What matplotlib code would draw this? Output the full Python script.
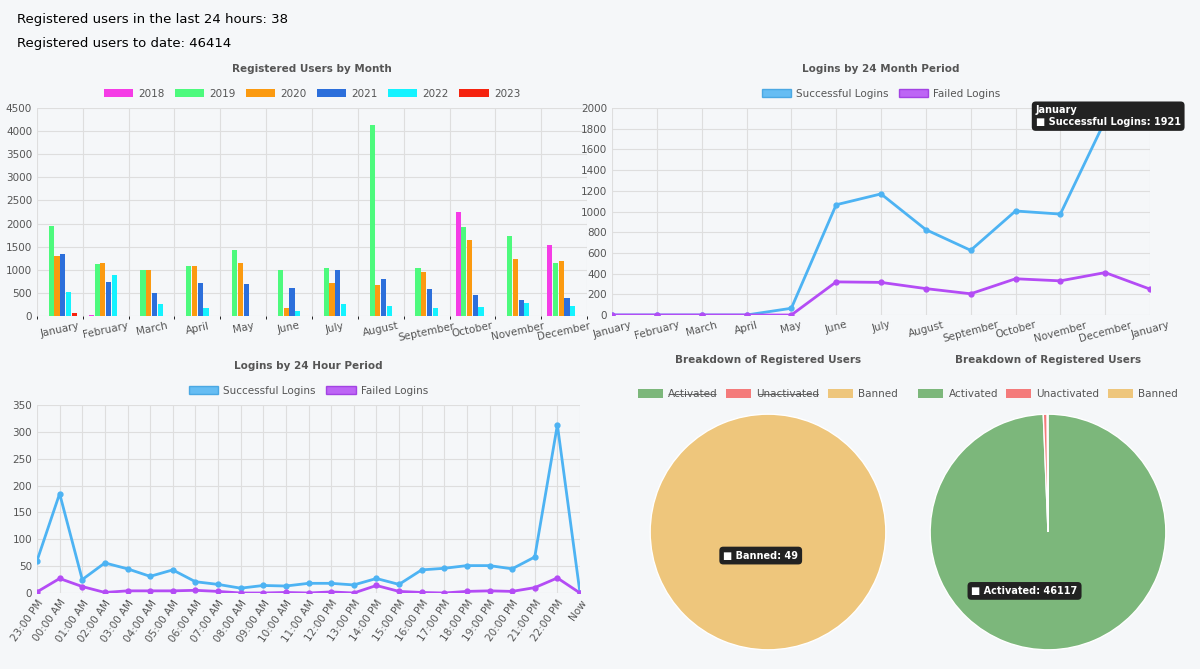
import numpy as np
import matplotlib.pyplot as plt
from matplotlib.patches import Patch

months = ["January", "February", "March", "April", "May", "June", "July",
          "August", "September", "October", "November", "December"]
years = ["2018", "2019", "2020", "2021", "2022", "2023"]
reg_by_year = {
    "2018": [0, 30, 0, 0, 0, 0, 0, 0, 0, 2260, 0, 1540],
    "2019": [1950, 1120, 1000, 1090, 1420, 1000, 1030, 4140, 1030, 1930, 1740, 1150],
    "2020": [1300, 1150, 990, 1090, 1140, 170, 720, 680, 950, 1650, 1240, 1180],
    "2021": [1340, 740, 490, 720, 700, 600, 1000, 800, 590, 450, 340, 390],
    "2022": [510, 880, 270, 180, 0, 110, 260, 210, 170, 190, 290, 220],
    "2023": [70, 0, 0, 0, 0, 0, 0, 0, 0, 0, 0, 0],
}
year_colors = ["#f53ce6", "#4dfa7d", "#fb9a10", "#2c6fdb", "#14f3ff", "#f5230f"]

months24 = months + ["January"]
succ24m = [0, 0, 0, 0, 65, 1065, 1170, 825, 625, 1005, 975, 1880, 1921]
fail24m = [0, 0, 0, 0, 0, 320, 315, 255, 205, 350, 330, 410, 250]

hours = ["23:00 PM", "00:00 AM", "01:00 AM", "02:00 AM", "03:00 AM", "04:00 AM",
         "05:00 AM", "06:00 AM", "07:00 AM", "08:00 AM", "09:00 AM", "10:00 AM",
         "11:00 AM", "12:00 PM", "13:00 PM", "14:00 PM", "15:00 PM", "16:00 PM",
         "17:00 PM", "18:00 PM", "19:00 PM", "20:00 PM", "21:00 PM", "22:00 PM", "Now"]
succ24h = [60, 185, 25, 56, 45, 31, 43, 21, 16, 9, 14, 13, 18, 18, 15, 27, 16,
           43, 46, 51, 51, 45, 67, 313, 0]
fail24h = [2, 27, 12, 1, 4, 4, 4, 5, 3, 0, 0, 1, 0, 2, 0, 14, 3, 1, 0, 3, 4, 3,
           10, 28, 0]

pie_labels = ["Activated", "Unactivated", "Banned"]
pie_values = [46117, 248, 49]
pie_colors = ["#7cb77b", "#f47b7b", "#eec67c"]

BG = "#f5f7f9"
SUCC = "#4db3f3"
FAIL = "#b44cf5"
TXT = "#555555"

plt.rcParams["font.family"] = ["DejaVu Sans"]
fig = plt.figure(figsize=(12, 6.69), dpi=100, facecolor=BG)
W, H = 1200, 669


def axes_px(x0, y0, x1, y1):
    return fig.add_axes([x0 / W, 1 - y1 / H, (x1 - x0) / W, (y1 - y0) / H], facecolor=BG)


def style(ax):
    ax.grid(True, color="#dedede", lw=0.8)
    ax.set_axisbelow(True)
    for s in ax.spines.values():
        s.set_visible(False)
    ax.tick_params(colors=TXT, labelsize=7.5, length=0)


LEG = dict(frameon=False, fontsize=7.5, handlelength=2.8, handleheight=0.9,
           labelcolor=TXT, columnspacing=1.0, handletextpad=0.5)

fig.text(17 / W, 1 - 19 / H, "Registered users in the last 24 hours: 38", fontsize=9.5, va="center")
fig.text(17 / W, 1 - 44 / H, "Registered users to date: 46414", fontsize=9.5, va="center")

# bar chart
ax = axes_px(37, 108, 587, 316)
style(ax)
x = np.arange(len(months))
bw = 0.125
for i, (yr, c) in enumerate(zip(years, year_colors)):
    ax.bar(x + (i - 2.5) * bw, reg_by_year[yr], bw * 0.9, color=c, label=yr)
ax.set_xlim(-0.5, 11.5)
ax.set_ylim(0, 4500)
ax.set_yticks(range(0, 4501, 500))
ax.set_xticks(x)
ax.set_xticklabels(months, rotation=12, ha="center")
ax.set_xticks(np.arange(-0.5, 12, 1), minor=True)
ax.grid(False, axis="x")
ax.grid(True, which="minor", axis="x", color="#dedede", lw=0.8)
ax.set_title("Registered Users by Month", fontsize=7.5, fontweight="bold", color=TXT, pad=26)
ax.legend(loc="lower center", bbox_to_anchor=(0.5, 1.0), ncol=6, **LEG)

# 24 month
ax = axes_px(612, 108, 1150, 315)
style(ax)
x = np.arange(len(months24))
ax.plot(x, succ24m, color=SUCC, lw=2, marker="o", ms=3.5)
ax.plot(x, fail24m, color=FAIL, lw=2, marker="o", ms=3.5)
ax.set_xlim(0, 12)
ax.set_ylim(0, 2000)
ax.set_yticks(range(0, 2001, 200))
ax.set_xticks(x)
ax.set_xticklabels(months24, rotation=15, ha="center")
ax.set_title("Logins by 24 Month Period", fontsize=7.5, fontweight="bold", color=TXT, pad=26)
line_handles = [Patch(fc=SUCC, ec="#3aa0e0", alpha=0.85, label="Successful Logins"),
                Patch(fc=FAIL, ec="#9a30e0", alpha=0.85, label="Failed Logins")]
ax.legend(handles=line_handles, loc="lower center", bbox_to_anchor=(0.5, 1.0), ncol=2, **LEG)
ax.text(9.45, 1921, "January\n\u25a0 Successful Logins: 1921", fontsize=7, color="white",
        ha="left", va="center", fontweight="bold", multialignment="left",
        bbox=dict(boxstyle="round,pad=0.4", fc="#222222", ec="none"))

# 24 hour
ax = axes_px(37, 405, 580, 593)
style(ax)
x = np.arange(len(hours))
ax.plot(x, succ24h, color=SUCC, lw=2, marker="o", ms=3.5)
ax.plot(x, fail24h, color=FAIL, lw=2, marker="o", ms=3.5)
ax.set_xlim(0, 24)
ax.set_ylim(0, 350)
ax.set_yticks(range(0, 351, 50))
ax.set_xticks(x)
ax.set_xticklabels(hours, rotation=55, ha="right", rotation_mode="anchor")
ax.set_title("Logins by 24 Hour Period", fontsize=7.5, fontweight="bold", color=TXT, pad=26)
ax.legend(handles=line_handles, loc="lower center", bbox_to_anchor=(0.5, 1.0), ncol=2, **LEG)

# pies
handles = [Patch(fc=c, label=l) for c, l in zip(pie_colors, pie_labels)]
for cx, vis, tip in [(768, [False, False, True], "Banned: 49"),
                     (1048, [True, True, True], "Activated: 46117")]:
    r = 119
    ax = axes_px(cx - r, 532 - r, cx + r, 532 + r)
    vals = [v if s else 0 for v, s in zip(pie_values, vis)]
    ax.pie(vals, colors=pie_colors, startangle=90, counterclock=False,
           wedgeprops=dict(ec="white", lw=1))
    ax.set_aspect("equal")
    ax.set_xlim(-1.01, 1.01)
    ax.set_ylim(-1.01, 1.01)
    ax.set_title("Breakdown of Registered Users", fontsize=7.5, fontweight="bold",
                 color=TXT, pad=36)
    leg = ax.legend(handles=handles, loc="lower center", bbox_to_anchor=(0.5, 1.02), ncol=3,
                    **dict(LEG, handlelength=2.4, columnspacing=0.8))
    if not vis[0]:
        for t in leg.get_texts()[:2]:
            t.set_text("".join(ch + "\u0336" for ch in t.get_text()))
    ax.text(-0.38 if not vis[0] else -0.65, -0.2 if not vis[0] else -0.5,
            "\u25a0 " + tip, fontsize=7, color="white", fontweight="bold",
            ha="left", va="center",
            bbox=dict(boxstyle="round,pad=0.4", fc="#222222", ec="none"))

fig.savefig("out.png", dpi=100, facecolor=BG)
